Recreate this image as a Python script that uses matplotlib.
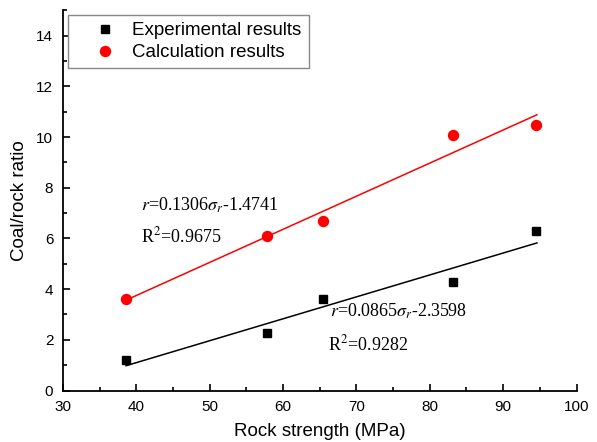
import numpy as np
import matplotlib
matplotlib.use('Agg')
import matplotlib.pyplot as plt
from matplotlib.ticker import MultipleLocator

plt.rcParams['font.family'] = ['Liberation Sans', 'DejaVu Sans']
plt.rcParams['mathtext.fontset'] = 'stix'

# data
strength = [38.6, 57.8, 65.5, 83.2, 94.5]
experimental = [1.2, 2.26, 3.6, 4.27, 6.29]
calculated = [3.6, 6.1, 6.7, 10.1, 10.47]

# fitted lines (coefficients printed on the chart)
fit_range = [38.6, 94.6]
exp_fit = (0.0865, -2.3598)
calc_fit = (0.1306, -1.4741)

fig = plt.figure(figsize=(5.97, 4.42), dpi=100)
ax = fig.add_axes([0.1055, 0.1165, 0.8602, 0.86])

xs = np.array(fit_range)
ax.plot(xs, exp_fit[0] * xs + exp_fit[1], color='black', lw=1.1)
ax.plot(xs, calc_fit[0] * xs + calc_fit[1], color='red', lw=1.1)
ax.plot(strength, experimental, 's', color='black', ms=6.3, label='Experimental results')
ax.plot(strength, calculated, 'o', color='red', ms=7.2, label='Calculation results')

ax.set_xlim(30, 100)
ax.set_ylim(0, 15)
ax.xaxis.set_major_locator(MultipleLocator(10))
ax.xaxis.set_minor_locator(MultipleLocator(5))
ax.yaxis.set_major_locator(MultipleLocator(2))
ax.yaxis.set_minor_locator(MultipleLocator(1))
ax.tick_params(which='both', direction='in', labelsize=11, width=1.2)
ax.tick_params(which='major', length=5, pad=7)
ax.tick_params(which='minor', length=3)
for s in ['top', 'right']:
    ax.spines[s].set_visible(False)
for s in ['left', 'bottom']:
    ax.spines[s].set_linewidth(1.3)

ax.set_xlabel('Rock strength (MPa)', fontsize=13.5, labelpad=6)
ax.set_ylabel('Coal/rock ratio', fontsize=13.5, labelpad=6)

serif = {'family': ['Liberation Serif', 'DejaVu Serif'], 'size': 13}
ax.text(40.6, 7.09, r'$r$=0.1306$\sigma_r$-1.4741', fontdict=serif)
ax.text(40.6, 5.83, r'R$^2$=0.9675', fontdict=serif)
ax.text(66.4, 2.91, r'$r$=0.0865$\sigma_r$-2.3598', fontdict=serif)
ax.text(66.1, 1.6, r'R$^2$=0.9282', fontdict=serif)

leg = ax.legend(loc='upper left', bbox_to_anchor=(67.7 / 597, 1 - 15 / 442),
                bbox_transform=fig.transFigure, borderaxespad=0, fontsize=13.5,
                fancybox=False, edgecolor='#888888', framealpha=1,
                borderpad=0.38, handlelength=3.27, handletextpad=-0.2,
                labelspacing=0.25)
leg.get_frame().set_linewidth(1.0)

fig.savefig('out.png', dpi=100)
